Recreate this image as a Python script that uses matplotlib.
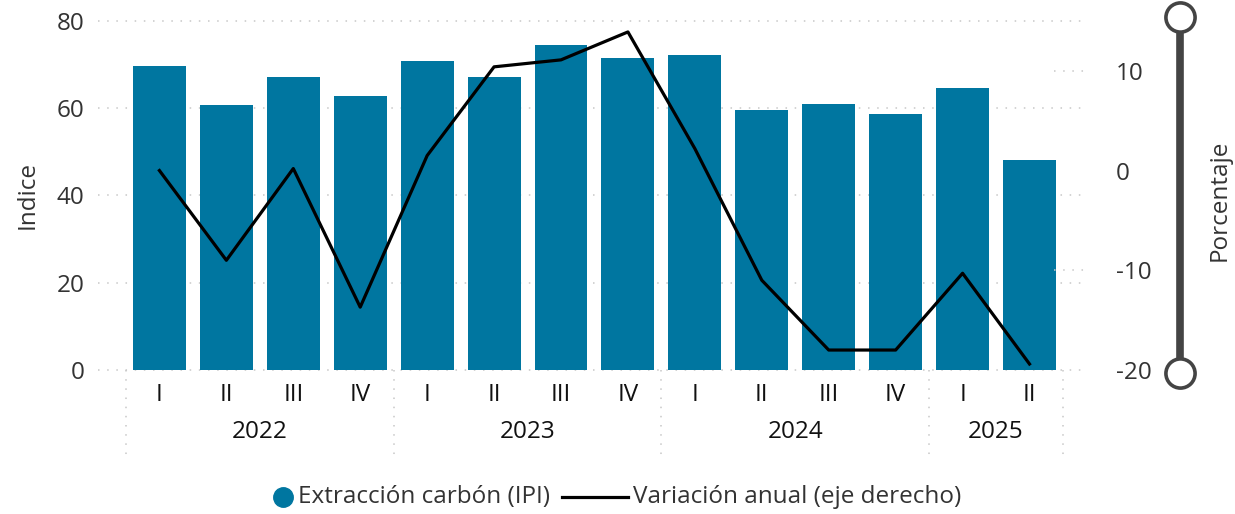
import matplotlib
matplotlib.use("Agg")
import matplotlib.pyplot as plt
from matplotlib.lines import Line2D
from matplotlib.transforms import blended_transform_factory

plt.rcParams['font.family'] = ['Open Sans', 'DejaVu Sans']
plt.rcParams['axes.unicode_minus'] = False

# datos
quarters = ["I", "II", "III", "IV", "I", "II", "III", "IV", "I", "II", "III", "IV", "I", "II"]
years = ["2022", "2023", "2024", "2025"]
year_sizes = [4, 4, 4, 2]
indice = [69.7, 60.7, 67.2, 62.8, 70.8, 67.2, 74.5, 71.5, 72.2, 59.6, 61.0, 58.7, 64.6, 48.1]
variacion = [0.0, -9.0, 0.2, -13.7, 1.5, 10.4, 11.1, 13.9, 2.2, -11.0, -18.0, -18.0, -10.3, -19.4]

bar_color = "#0076A0"
grid_color = "#c8c8c8"
text_color = "#333333"
fs = 17.5

fig = plt.figure(figsize=(12.35, 5.14), dpi=100)
ax = fig.add_axes([0.102, 0.2802, 0.7587, 0.679])
ax2 = ax.twinx()

x = list(range(len(indice)))
ax.bar(x, indice, width=0.79, color=bar_color, zorder=2)
ax2.plot(x, variacion, color="black", lw=2.3, zorder=3)

ax.set_xlim(-0.5, len(x) - 0.5)
ax.set_ylim(0, 80)
ax2.set_ylim(-20, 15)
ax.set_yticks([0, 20, 40, 60, 80])
ax2.set_yticks([-20, -10, 0, 10])

for a in (ax, ax2):
    for s in a.spines.values():
        s.set_visible(False)
    a.tick_params(length=0, labelsize=fs, colors=text_color)
ax.tick_params(axis='y', pad=30)
ax2.tick_params(axis='y', pad=38)
ax.set_xticks([])
ax.set_zorder(ax2.get_zorder() - 1)
ax2.patch.set_visible(False)

# rejilla punteada
dots = (0, (1, 5))
for v in [0, 20, 40, 60, 80]:
    ax.plot([-0.03, 1.02], [v / 80, v / 80], transform=ax.transAxes, color=grid_color,
            lw=1.1, ls=dots, clip_on=False, zorder=0)
for v in [-10, 10]:
    ax2.plot([0.99, 1.025], [(v + 20) / 35, (v + 20) / 35], transform=ax2.transAxes,
             color=grid_color, lw=1.1, ls=dots, clip_on=False, zorder=0)

fig.text(28 / 1235, 1 - 195 / 514, "Indice", rotation=90, ha='center', va='center',
         fontsize=fs, color=text_color)
fig.text(1220 / 1235, 1 - 200 / 514, "Porcentaje", rotation=90, ha='center', va='center',
         fontsize=fs, color=text_color)

# etiquetas de categorias
tr = blended_transform_factory(ax.transData, ax.transAxes)
for i, q in enumerate(quarters):
    ax.text(i, -0.072, q, transform=tr, ha='center', va='center', fontsize=fs, color="#111111")
start = 0
bounds = [-0.5]
for y, n in zip(years, year_sizes):
    ax.text(start + (n - 1) / 2, -0.178, y, transform=tr, ha='center', va='center',
            fontsize=fs, color="#111111")
    start += n
    bounds.append(start - 0.5)
for b in bounds:
    ax.plot([b, b], [0, -0.245], transform=tr, color=grid_color, lw=1.1, ls=dots, clip_on=False)

# control deslizante del eje derecho
sx = 1180 / 1235
fig.add_artist(Line2D([sx, sx], [1 - 17 / 514, 1 - 373 / 514], transform=fig.transFigure,
                      color="#444444", lw=5.5, solid_capstyle='butt'))
fig.add_artist(Line2D([sx, sx], [1 - 17 / 514, 1 - 373 / 514], transform=fig.transFigure,
                      ls='none', marker='o', markersize=21, markerfacecolor='white',
                      markeredgecolor="#444444", markeredgewidth=2.6))

# leyenda (dibujada a mano, centrada)
labels = ["Extracción carbón (IPI)", "Variación anual (eje derecho)"]
W, H = 1235, 514
ly = 1 - 497 / H
renderer = fig.canvas.get_renderer()
t1 = fig.text(0, ly, labels[0], fontsize=fs, color=text_color, va='center')
t2 = fig.text(0, ly, labels[1], fontsize=fs, color=text_color, va='center')
w1 = t1.get_window_extent(renderer).width
w2 = t2.get_window_extent(renderer).width
total = 20 + 5 + w1 + 12 + 66 + 5 + w2
x0 = (W - total) / 2
fig.add_artist(Line2D([(x0 + 10) / W], [ly], transform=fig.transFigure, ls='none',
                      marker='o', markersize=14, color=bar_color))
t1.set_x((x0 + 25) / W)
lx = x0 + 25 + w1 + 12
fig.add_artist(Line2D([lx / W, (lx + 66) / W], [ly, ly], transform=fig.transFigure,
                      color='black', lw=2.3))
t2.set_x((lx + 71) / W)

fig.savefig("out.png", dpi=100)
